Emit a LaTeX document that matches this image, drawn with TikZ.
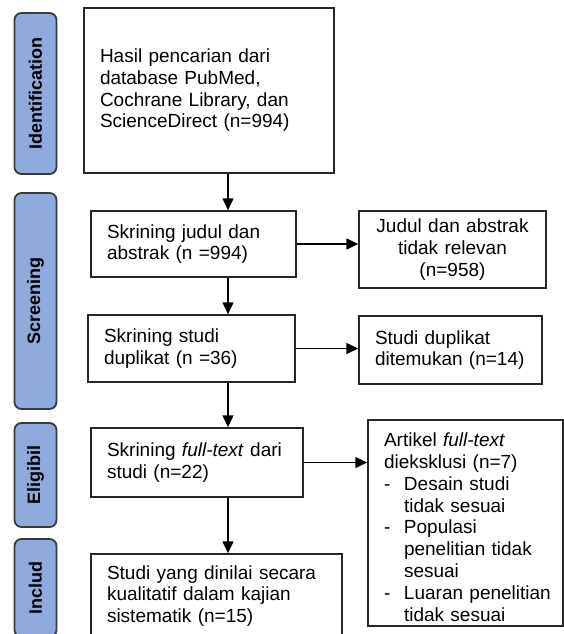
\documentclass[tikz,border=0pt]{standalone}
\usepackage{fontspec}
\setmainfont{Liberation Sans}
\usetikzlibrary{arrows.meta}
\definecolor{lblfill}{HTML}{8FAADC}
\definecolor{lbldraw}{HTML}{3A3A3A}
\definecolor{boxdraw}{HTML}{262626}
\tikzset{
  box/.style={draw=boxdraw, line width=1.5pt, fill=white, align=left,
    inner xsep=16pt, inner ysep=0pt, font=\fontsize{19pt}{21.7pt}\selectfont},
  phase/.style={draw=lbldraw, line width=1.8pt, fill=lblfill, rounded corners=7pt,
    rotate=90, minimum height=42pt, inner sep=0pt,
    font=\fontsize{18pt}{20pt}\selectfont\bfseries},
  arr/.style={draw=black, line width=1.5pt, -{Triangle[length=12pt,width=11pt]}},
}
\newcommand{\itm}{\makebox[20pt][l]{-}}
\newcommand{\ind}{\hspace*{20pt}}
\begin{document}
\begin{tikzpicture}[x=1pt,y=-1pt]
\useasboundingbox (0,0) rectangle (564,634);
\clip (0,0) rectangle (564,634);
\fill[white] (0,0) rectangle (564,634);

% phase labels
\node[phase, minimum width=161pt] (pid) at (35.5,93.5) {Identification};
\node[phase, minimum width=216pt] (psc) at (35.5,301) {Screening};
\node[phase, minimum width=104pt] (pel) at (35.5,475) {Eligibil};
\node[phase, minimum width=98pt]  (pin) at (35.5,588) {Includ};

% main boxes
\node[box, text width=218pt, minimum height=165pt] (b1) at (209,90.5)
  {Hasil pencarian dari\\database PubMed,\\Cochrane Library, dan\\ScienceDirect (n=994)};
\node[box, text width=173pt, minimum height=66pt] (b2) at (193.5,244)
  {Skrining judul dan\\abstrak (n =994)};
\node[box, text width=175pt, minimum height=67pt] (b3) at (191.5,348.5)
  {Skrining studi\\duplikat (n =36)};
\node[box, text width=180pt, minimum height=69pt] (b4) at (197,462.5)
  {Skrining \textit{full-text} dari\\studi (n=22)};
\node[box, text width=219pt, minimum height=84pt] (b5) at (216.5,596)
  {Studi yang dinilai secara\\kualitatif dalam kajian\\sistematik (n=15)};

% side boxes
\node[box, align=center, text width=155pt, minimum height=77pt] (judul) at (452.5,249.5)
  {Judul dan abstrak\\tidak relevan\\(n=958)};
\node[box, text width=151pt, minimum height=68pt] (dup) at (450.5,350)
  {Studi duplikat\\ditemukan (n=14)};
\node[box, text width=163pt, minimum height=206pt,
      font=\fontsize{19pt}{21.8pt}\selectfont] (art) at (465.5,523)
  {\mbox{\rule{0pt}{22pt}Artikel \textit{full-text}}\\\mbox{dieksklusi (n=7)}\\\mbox{\itm Desain studi}\\\mbox{\ind tidak sesuai}\\\mbox{\itm Populasi}\\\mbox{\ind penelitian tidak}\\\mbox{\ind sesuai}\\\mbox{\itm Luaran penelitian}\\\mbox{\ind tidak sesuai}};

% connectors
\coordinate (ax) at (228,0);
\draw[arr] (b1.south -| ax) -- (b2.north -| ax);
\draw[arr] (b2.south -| ax) -- (b3.north -| ax);
\draw[arr] (b3.south -| ax) -- (b4.north -| ax);
\draw[arr] (b4.south -| ax) -- (b5.north -| ax);
\draw[arr] (b2.east) -- (judul.west |- b2.east);
\draw[arr] (b3.east) -- (dup.west |- b3.east);
\draw[arr] (b4.east) -- (art.west |- b4.east);
\end{tikzpicture}
\end{document}
